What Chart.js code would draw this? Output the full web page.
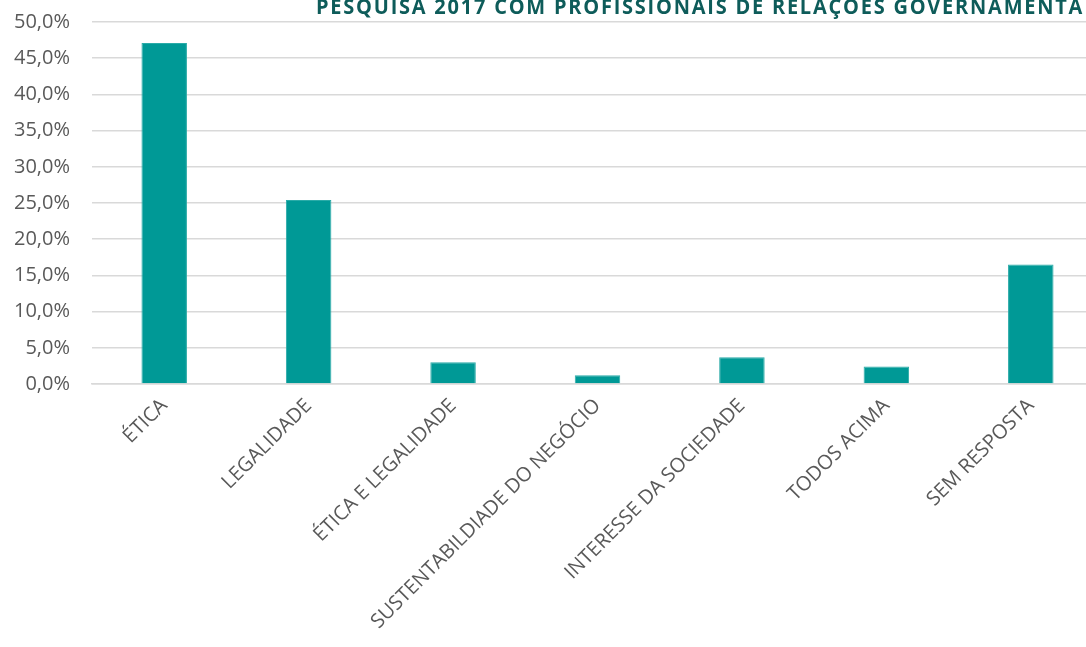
<!DOCTYPE html>
<html>
<head>
    <meta charset="utf-8">
    <style>
        html, body { margin: 0; padding: 0; background: #fff; overflow: hidden; }
        #wrap { position: relative; top: -12px; width: 1103px; height: 659px; }
        #titulo {
            position: absolute; top: -3px; left: 316px; white-space: nowrap;
            font-family: "Open Sans", sans-serif; font-weight: bold; font-size: 20px;
            line-height: 20px; color: #0E5C5A; z-index: 2;
            transform: scaleY(1.1); transform-origin: 0 18px;
        }
    </style>
</head>
<body>
    <div id="titulo">PESQUISA 2017 COM PROFISSIONAIS DE RELAÇÕES GOVERNAMENTA</div>
    <div id="wrap"><canvas id="grafico"></canvas></div>

<script src="https://cdn.jsdelivr.net/npm/chart.js"></script>
<script>
    var categorias = ['ÉTICA', 'LEGALIDADE', 'ÉTICA E LEGALIDADE', 'SUSTENTABILDIADE DO NEGÓCIO', 'INTERESSE DA SOCIEDADE', 'TODOS ACIMA', 'SEM RESPOSTA']
    var percentuais = [47.1, 25.4, 3.0, 1.2, 3.7, 2.4, 16.5]
    var yMax = 50
    var yPasso = 5

    // ajusta o espaçamento do título para ocupar a largura visível
    var t = document.getElementById('titulo')
    var sobra = (1084 - 316) - t.offsetWidth
    t.style.letterSpacing = (sobra / t.textContent.length) + 'px'

    var ctx = document.getElementById('grafico').getContext('2d')

    new Chart(ctx, {
        type: 'bar',
        data: {
            labels: categorias,
            datasets: [{
                label: 'Respostas',
                data: percentuais,
                backgroundColor: '#009996',
                borderColor: '#2AABA8',
                borderWidth: 1,
                barPercentage: 0.315,
                categoryPercentage: 1
            }]
        },
        options: {
            responsive: true,
            maintainAspectRatio: false,
            animation: false,
            layout: { padding: { top: 3, right: 0, left: 0, bottom: 0 } },
            plugins: { legend: { display: false }, tooltip: { enabled: false } },
            scales: {
                y: {
                    min: 0,
                    max: yMax,
                    ticks: {
                        stepSize: yPasso,
                        padding: 22,
                        color: '#595959',
                        font: { family: 'Open Sans', size: 20 },
                        callback: function (v) { return v.toFixed(1).replace('.', ',') + '%' }
                    },
                    grid: { color: '#D9D9D9', lineWidth: 1.5, drawTicks: false },
                    border: { display: false },
                    afterFit: function (scale) { scale.width = 92 }
                },
                x: {
                    ticks: {
                        minRotation: 45,
                        maxRotation: 45,
                        autoSkip: false,
                        padding: 2,
                        color: '#595959',
                        font: { family: 'Open Sans', size: 20 }
                    },
                    grid: { display: false },
                    border: { color: '#D9D9D9', width: 1.5 },
                    afterFit: function (scale) { scale.height = 263 }
                }
            }
        }
    })
</script>
</body>
</html>
